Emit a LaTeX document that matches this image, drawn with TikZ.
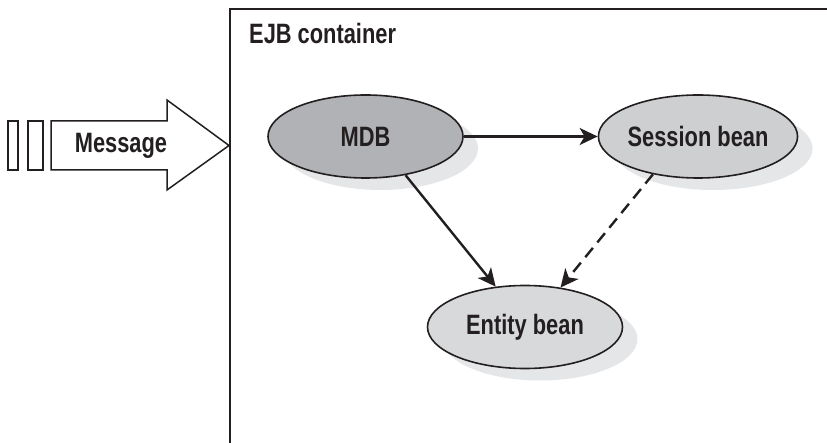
\documentclass[tikz,border=0pt]{standalone}
\usepackage{fontspec}
\setmainfont{Liberation Sans Bold}[FakeStretch=0.78]
\usetikzlibrary{shapes.geometric,arrows.meta,shadows}

\definecolor{mdbgray}{RGB}{177,178,181}
\definecolor{sessgray}{RGB}{206,207,209}
\definecolor{entgray}{RGB}{216,217,219}
\definecolor{shadegray}{RGB}{229,230,232}
\definecolor{ink}{RGB}{35,31,32}

\tikzset{
  bean/.style={ellipse, draw=ink, line width=1.6pt, minimum width=195pt,
    minimum height=83pt, inner sep=0pt, font=\fontsize{28}{32}\selectfont,
    text=ink,
    drop shadow={shadow xshift=15pt, shadow yshift=-12pt, fill=shadegray, opacity=1}},
  flow/.style={draw=ink, line width=2.4pt, -{Stealth[length=18pt,width=17pt,inset=5pt]}},
  label/.style={font=\fontsize{28}{32}\selectfont, text=ink},
  bar/.style={draw=ink, line width=1.5pt, fill=white}
}

\begin{document}
\begin{tikzpicture}[x=1pt,y=-1pt]
  \useasboundingbox (0,0) rectangle (827,443);

  % container frame: top and left edges only
  \draw[ink, line width=2.6pt] (827,9) -- (230,9) -- (230,443);
  \node[label, anchor=west, inner sep=0pt] (ejb) at (249,33) {EJB container};

  % incoming message queue and arrow
  \draw[bar] (8,121) rectangle (18,170);
  \draw[bar] (28,121) rectangle (43,170);
  \draw[bar] (51,121) -- (167,121) -- (167,100) -- (229,145.5) -- (167,190)
    -- (167,170) -- (51,170) -- cycle;
  \node[label] (msg) at (121,145.5) {Message};

  % beans
  \node[bean, fill=mdbgray] (mdb) at (365.5,136.5) {MDB};
  \node[bean, fill=sessgray] (session) at (698,136.5) {Session bean};
  \node[bean, fill=entgray] (entity) at (525,327) {Entity bean};

  % calls between beans
  \draw[flow] (mdb) -- (session);
  \draw[flow] (mdb.-44) -- (entity.126);
  \draw[flow, dash pattern=on 12pt off 7pt] (session.-140) -- (entity.48);
\end{tikzpicture}
\end{document}
